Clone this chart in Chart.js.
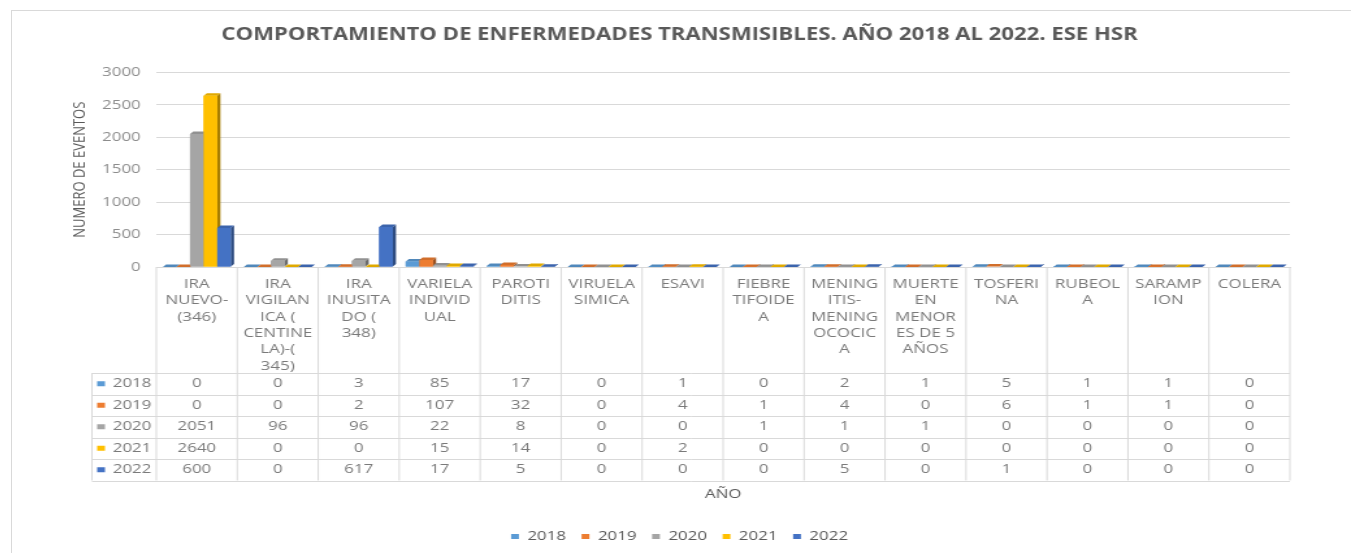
<!DOCTYPE html>
<html lang="es">
<head>
<meta charset="utf-8">
<title>Comportamiento de enfermedades transmisibles 2018 - 2022</title>
<script src="https://cdn.jsdelivr.net/npm/chart.js@4.4.1/dist/chart.umd.min.js"></script>
<style>
  html, body { margin: 0; padding: 0; background: #fff; overflow: hidden; }
  #frame { position: absolute; left: 11px; top: 10px; width: 1400px; height: 600px; border: 1px solid #d9d9d9; background: #fff; }
  /* the source picture is stretched sideways, so the chart is too */
  #wrap { position: absolute; left: 0; top: 0; transform: scaleX(1.3); transform-origin: 0 0; }
  canvas { display: block; }
</style>
</head>
<body>
<div id="frame"><div id="wrap"><canvas id="chart" width="1032" height="545"></canvas></div></div>
<script>
/* ========== DATA ========== */
const categories = [
  ['IRA', 'NUEVO-', '(346)'],
  ['IRA', 'VIGILAN', 'ICA (', 'CENTINE', 'LA)-(', '345)'],
  ['IRA', 'INUSITA', 'DO (', '348)'],
  ['VARIELA', 'INDIVID', 'UAL'],
  ['PAROTI', 'DITIS'],
  ['VIRUELA', 'SIMICA'],
  ['ESAVI'],
  ['FIEBRE', 'TIFOIDE', 'A'],
  ['MENING', 'ITIS-', 'MENING', 'OCOCIC', 'A'],
  ['MUERTE', 'EN', 'MENOR', 'ES DE 5', 'AÑOS'],
  ['TOSFERI', 'NA'],
  ['RUBEOL', 'A'],
  ['SARAMP', 'ION'],
  ['COLERA']
];
const years = ['2018', '2019', '2020', '2021', '2022'];
const v2018 = [0, 0, 3, 85, 17, 0, 1, 0, 2, 1, 5, 1, 1, 0];
const v2019 = [0, 0, 2, 107, 32, 0, 4, 1, 4, 0, 6, 1, 1, 0];
const v2020 = [2051, 96, 96, 22, 8, 0, 0, 1, 1, 1, 0, 0, 0, 0];
const v2021 = [2640, 0, 0, 15, 14, 0, 2, 0, 0, 0, 0, 0, 0, 0];
const v2022 = [600, 0, 617, 17, 5, 0, 0, 0, 5, 0, 1, 0, 0, 0];
const series = [v2018, v2019, v2020, v2021, v2022];
const colors = ['#5B9BD5', '#ED7D31', '#A5A5A5', '#FFC000', '#4472C4'];
const yMax = 3000, yStep = 500;

const FONT = '"Open Sans", sans-serif';
const GRID = '#d9d9d9';
const TEXT = '#595959';
const CELL = '#7a7a7a';
Chart.defaults.font.family = FONT;

// lighten (amt > 0) or darken (amt < 0) a hex colour
function shade(hex, amt) {
  const n = parseInt(hex.slice(1), 16);
  const ch = [n >> 16, (n >> 8) & 255, n & 255].map(c => amt < 0 ? c * (1 + amt) : c + (255 - c) * amt);
  return `rgb(${ch.map(Math.round).join(',')})`;
}

// ========== 3D COLUMNS ==========
// redraws each bar with a side and a top face, using the bar elements the library laid out
const bars3d = {
  id: 'bars3d',
  afterDatasetsDraw(chart) {
    const ctx = chart.ctx, d = 2.5;
    const metas = years.map((y, k) => chart.getDatasetMeta(k));
    ctx.save();
    for (let c = 0; c < categories.length; c++) {
      metas.forEach((meta, k) => {
        const { x, y, base, width } = meta.data[c].getProps(['x', 'y', 'base', 'width'], true);
        const l = x - width / 2, r = x + width / 2;
        ctx.fillStyle = shade(colors[k], -0.35);
        ctx.beginPath(); ctx.moveTo(r, y); ctx.lineTo(r + d, y - d); ctx.lineTo(r + d, base - d); ctx.lineTo(r, base); ctx.fill();
        ctx.fillStyle = shade(colors[k], -0.12);
        ctx.beginPath(); ctx.moveTo(l, y); ctx.lineTo(l + d, y - d); ctx.lineTo(r + d, y - d); ctx.lineTo(r, y); ctx.fill();
        ctx.fillStyle = colors[k];
        ctx.fillRect(l, y, width, base - y);
      });
    }
    ctx.restore();
  }
};

// ========== DATA TABLE ==========
const dataTable = {
  id: 'dataTable',
  afterDraw(chart) {
    const { ctx, scales: { x } } = chart;
    const n = categories.length, colW = (x.right - x.left) / n;
    const top = x.top, headBottom = top + 106, rowH = 21.5;
    const bottom = headBottom + rowH * years.length;
    const tableLeft = 61.5;
    ctx.save();
    ctx.strokeStyle = GRID; ctx.lineWidth = 1;
    ctx.beginPath();
    for (let r = 0; r <= years.length; r++) {
      const yy = Math.round(headBottom + r * rowH) + 0.5;
      ctx.moveTo(tableLeft, yy); ctx.lineTo(x.right, yy);
    }
    ctx.moveTo(tableLeft, headBottom); ctx.lineTo(tableLeft, bottom);
    for (let i = 0; i <= n; i++) {
      const vx = i < n ? x.getPixelForValue(i) - colW / 2 : x.right;
      ctx.moveTo(vx, top); ctx.lineTo(vx, bottom);
    }
    ctx.stroke();

    ctx.font = `13px ${FONT}`;
    ctx.fillStyle = CELL;
    ctx.textAlign = 'center'; ctx.textBaseline = 'middle';
    categories.forEach((lines, i) => {
      const cx = x.getPixelForValue(i);
      lines.forEach((t, j) => ctx.fillText(t, cx, top + 17 + j * 16.4));
    });
    years.forEach((yr, k) => {
      const cy = headBottom + (k + 0.5) * rowH;
      ctx.fillStyle = colors[k];
      ctx.fillRect(tableLeft + 4, cy - 2.5, 6, 5);
      ctx.fillStyle = CELL;
      ctx.textAlign = 'left';
      ctx.fillText(yr, tableLeft + 16, cy);
      ctx.textAlign = 'center';
      series[k].forEach((v, i) => ctx.fillText(String(v), x.getPixelForValue(i), cy));
    });
    ctx.restore();
  }
};

// ========== CHART ==========
new Chart(document.getElementById('chart'), {
  type: 'bar',
  data: {
    labels: categories,
    datasets: years.map((yr, k) => ({ label: yr, data: series[k], backgroundColor: colors[k], borderWidth: 0 }))
  },
  options: {
    responsive: false,
    animation: false,
    layout: { padding: { left: 44, right: 49, top: 0, bottom: 3 } },
    datasets: { bar: { categoryPercentage: 0.84, barPercentage: 1 } },
    plugins: {
      title: {
        display: true,
        text: 'COMPORTAMIENTO DE ENFERMEDADES TRANSMISIBLES. AÑO 2018 AL 2022. ESE HSR',
        color: TEXT, font: { size: 17, weight: 'bold' }, padding: { top: 14, bottom: 27 }
      },
      legend: {
        position: 'bottom',
        labels: { color: TEXT, font: { size: 13 }, boxWidth: 6, boxHeight: 5, padding: 12 }
      },
      tooltip: { enabled: false }
    },
    scales: {
      x: {
        grid: { display: false },
        border: { color: GRID },
        ticks: { display: false },
        title: { display: true, text: 'AÑO', color: TEXT, font: { size: 13 }, padding: { top: 0, bottom: 16 } },
        afterFit: s => { s.height = 251; }
      },
      y: {
        min: 0, max: yMax,
        ticks: { stepSize: yStep, color: '#8c8c8c', font: { size: 13 }, padding: 12, callback: v => String(v) },
        grid: { color: GRID, drawTicks: false },
        border: { display: false },
        title: { display: true, text: 'NUMERO DE EVENTOS', color: TEXT, font: { size: 13 }, padding: { top: 0, bottom: 4 } },
        afterFit: s => { s.width = 67; }
      }
    }
  },
  plugins: [bars3d, dataTable]
});
</script>
</body>
</html>
